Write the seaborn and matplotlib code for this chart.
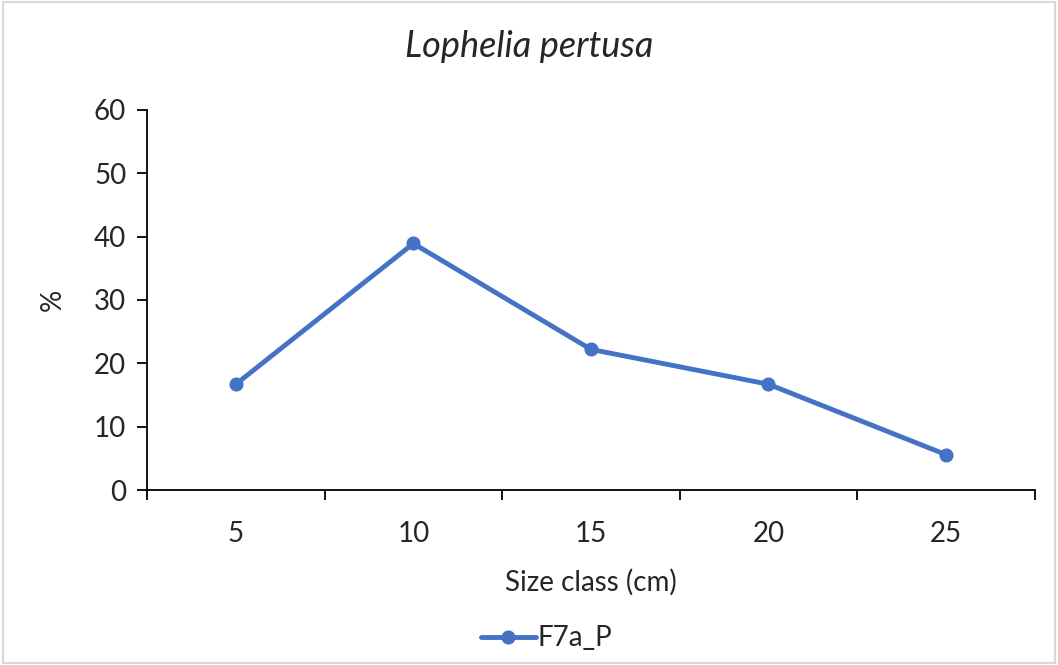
import numpy as np
import matplotlib.pyplot as plt
import seaborn as sns

# values
size_classes = ["5", "10", "15", "20", "25"]
percent = [16.7, 38.9, 22.2, 16.7, 5.6]
series_name = "F7a_P"

sns.set_style("white")
plt.rcParams["font.family"] = ["Lato", "DejaVu Sans"]

fig = plt.figure(figsize=(10.58, 6.65), dpi=100)
ax = fig.add_axes([0.139, 0.263, 0.839, 0.572])

sns.pointplot(x=size_classes, y=percent, color="#4472C4", markers="o",
              markersize=7.5, linewidth=3.5, label=series_name, ax=ax)

ax.set_xlim(-0.5, len(size_classes) - 0.5)
ax.set_ylim(0, 60)
ax.set_yticks(np.arange(0, 61, 10))

# category axis: tick marks between categories
ax.set_xticks(np.arange(-0.5, len(size_classes)), minor=True)
ax.tick_params(axis="x", which="major", bottom=True, length=0, pad=22, labelsize=20)
ax.tick_params(axis="x", which="minor", bottom=True, length=7, width=1.3, color="black", direction="out")
ax.tick_params(axis="y", left=True, length=7, width=1.3, color="black", direction="out", labelsize=20, pad=8)

for side in ["top", "right"]:
    ax.spines[side].set_visible(False)
for side in ["left", "bottom"]:
    ax.spines[side].set_color("black")
    ax.spines[side].set_linewidth(1.3)

ax.set_xlabel("Size class (cm)", fontsize=20, labelpad=16)
ax.set_ylabel("%", fontsize=20, labelpad=20)
# title centred on the whole figure, as in the reference
ax.set_title("Lophelia pertusa", fontsize=26, style="italic", pad=38, x=0.43)

ax.legend(loc="upper center", bbox_to_anchor=(0.45, -0.29), frameon=False,
          fontsize=20, handlelength=2.0, handletextpad=0.05)

# light grey frame around the chart area
fig.patches.append(plt.Rectangle((0.003, 0.003), 0.994, 0.994, transform=fig.transFigure,
                                 fill=False, edgecolor="#d9d9d9", linewidth=1.5))

fig.savefig("out.png", dpi=100)
